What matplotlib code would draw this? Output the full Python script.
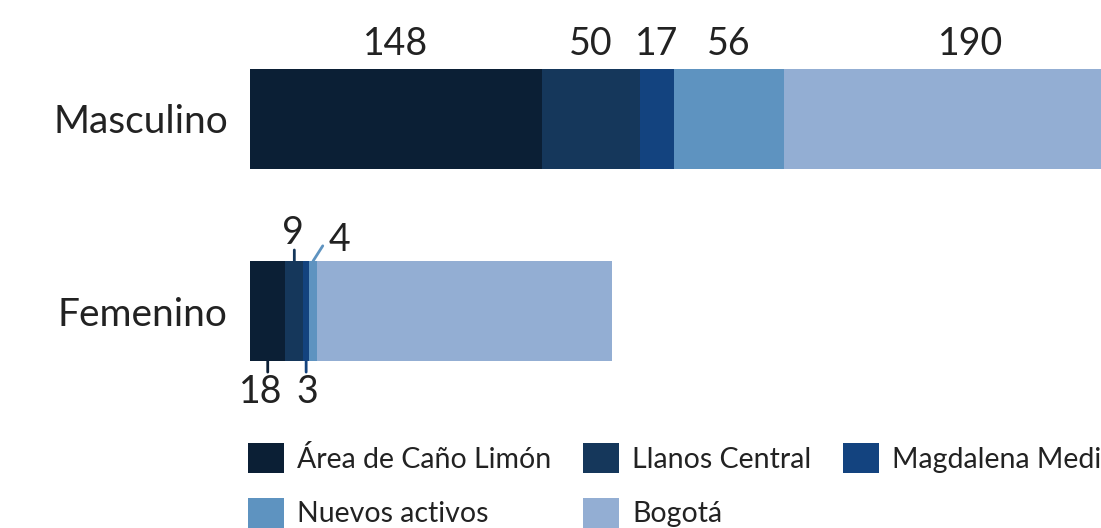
import matplotlib.pyplot as plt
import numpy as np

plt.rcParams['font.family'] = ['Lato', 'DejaVu Sans']

groups = ['Masculino', 'Femenino']
series = ['Área de Caño Limón', 'Llanos Central', 'Magdalena Medio',
          'Nuevos activos', 'Bogotá']
masculino = [148, 50, 17, 56, 190]
femenino = [18, 9, 3, 4, 150]
colors = ['#0b1f35', '#15375b', '#13437f', '#5e93c0', '#93aed3']

values = np.array([masculino, femenino])
text_color = '#222222'

fig = plt.figure(figsize=(11.01, 5.28), dpi=100)
ax = fig.add_axes([250 / 1101, 1 - 361 / 528, 851 / 1101, 292 / 528])

y = np.arange(len(groups))
left = np.zeros(len(groups))
bars = []
for i, name in enumerate(series):
    b = ax.barh(y, values[:, i], left=left, height=0.52, color=colors[i],
                label=name, linewidth=0)
    bars.append(b)
    left += values[:, i]

ax.set_xlim(0, 432)
ax.set_ylim(1.26, -0.26)

# Masculino labels above the bar
start = 0
for i, v in enumerate(masculino):
    ax.annotate(str(v), xy=(start + v / 2, -0.26), xytext=(0, 10),
                textcoords='offset points', ha='center', va='baseline',
                fontsize=27, color=text_color, annotation_clip=False)
    start += v

# Femenino small labels with leader lines
cum = np.cumsum([0] + femenino)
top_edge, bot_edge = 1 - 0.26, 1 + 0.26
# (segment, edge, line offset, text offset)
fem_labels = [
    (0, bot_edge, (0, -8), (-5, -9.5), 'top'),
    (1, top_edge, (0, 8), (-1, 12), 'baseline'),
    (2, bot_edge, (0, -8), (1, -9.5), 'top'),
    (3, top_edge, (7, 11), (19, 7), 'baseline'),
]
for seg, edge, loff, toff, va in fem_labels:
    xc = cum[seg] + femenino[seg] / 2
    ax.annotate('', xy=(xc, edge), xytext=loff, textcoords='offset points',
                arrowprops=dict(arrowstyle='-', color=colors[seg], lw=2,
                                shrinkA=0, shrinkB=0),
                annotation_clip=False)
    ax.annotate(str(femenino[seg]), xy=(xc, edge), xytext=toff,
                textcoords='offset points', ha='center', va=va, fontsize=27,
                color=text_color, annotation_clip=False)

ax.set_yticks(y)
ax.set_yticklabels(groups, fontsize=28, color=text_color)
ax.tick_params(axis='y', length=0, pad=16)
ax.set_xticks([])
for s in ax.spines.values():
    s.set_visible(False)

# legend filled row by row (matplotlib fills columns first)
order = [0, 3, 1, 4, 2]
leg = fig.legend(handles=[bars[k] for k in order],
                 labels=[series[k] for k in order], ncol=3, loc='upper left',
                 bbox_to_anchor=(248 / 1101, 1 - 443 / 528),
                 frameon=False, fontsize=20.5, borderpad=0, borderaxespad=0,
                 handlelength=1.27, handleheight=1.27, handletextpad=0.45,
                 columnspacing=1.12, labelspacing=0.85)
for t in leg.get_texts():
    t.set_color(text_color)

fig.savefig('out.png', dpi=100)
